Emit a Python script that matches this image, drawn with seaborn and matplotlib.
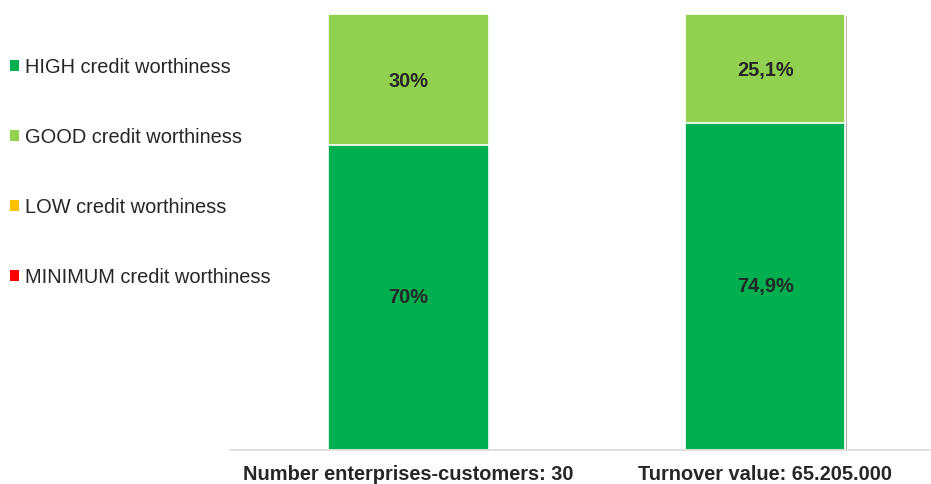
import matplotlib
matplotlib.use("Agg")
import matplotlib.pyplot as plt
from matplotlib.patches import Patch
import matplotlib.patheffects as pe
import seaborn as sns
import pandas as pd

categories = ["Number enterprises-customers: 30", "Turnover value: 65.205.000"]
high = [70.0, 74.9]
good = [30.0, 25.1]
low = [0.0, 0.0]
minimum = [0.0, 0.0]
high_labels = ["70%", "74,9%"]
good_labels = ["30%", "25,1%"]
series_names = ["HIGH credit worthiness", "GOOD credit worthiness",
                "LOW credit worthiness", "MINIMUM credit worthiness"]
colors = ["#00B050", "#92D050", "#FFC000", "#FF0000"]

sns.set_theme(style="white")
plt.rcParams["font.family"] = ["Liberation Sans", "DejaVu Sans"]

FS = 14.4
TEXT = "#262626"

df = pd.DataFrame({
    "category": categories,
    "high": high,
    "good": good,
    "low": low,
    "minimum": minimum,
})
df["top_high"] = df["high"]
df["top_good"] = df["high"] + df["good"]
df["top_low"] = df["top_good"] + df["low"]
df["top_min"] = df["top_low"] + df["minimum"]

fig = plt.figure(figsize=(9.31, 4.84), dpi=100)
ax = fig.add_axes([230 / 931, 34 / 484, 1 - 230 / 931, 436 / 484])

# stacked bars: draw cumulative totals from the top segment down
for col, color in zip(["top_min", "top_low", "top_good", "top_high"],
                      [colors[3], colors[2], colors[1], colors[0]]):
    sns.barplot(data=df, x="category", y=col, color=color, width=0.45,
                edgecolor="white", linewidth=1.2, saturation=1, ax=ax)

for bar in ax.patches:
    bar.set_path_effects([pe.SimplePatchShadow(offset=(1.2, -1.2), alpha=0.12),
                          pe.Normal()])

ax.set_xlim(-0.5, 1.465)
ax.set_ylim(0, 100)
ax.set_xlabel("")
ax.set_ylabel("")
ax.set_yticks([])
for s in ["top", "left", "right"]:
    ax.spines[s].set_visible(False)
ax.spines["bottom"].set_color("#D9D9D9")
ax.spines["bottom"].set_linewidth(1.2)
ax.tick_params(axis="x", length=0, pad=10.7)
for lbl in ax.get_xticklabels():
    lbl.set_fontweight("bold")
    lbl.set_fontsize(FS)
    lbl.set_color(TEXT)

for i in range(len(categories)):
    ax.text(i, high[i] / 2, high_labels[i], ha="center", va="center",
            fontsize=FS, fontweight="bold", color=TEXT)
    ax.annotate(good_labels[i], xy=(i, high[i] + good[i] / 2),
                xytext=(0, -1.5), textcoords="offset points",
                ha="center", va="center",
                fontsize=FS, fontweight="bold", color=TEXT)

handles = [Patch(facecolor=c, edgecolor="none") for c in colors]
fig.legend(handles, series_names, loc="upper left", bbox_to_anchor=(0.002, 0.897),
           frameon=False, fontsize=FS, labelcolor=TEXT,
           handlelength=0.45, handleheight=0.45, handletextpad=0.3,
           labelspacing=2.545, borderaxespad=0.0)

fig.savefig("out.png", dpi=100)
